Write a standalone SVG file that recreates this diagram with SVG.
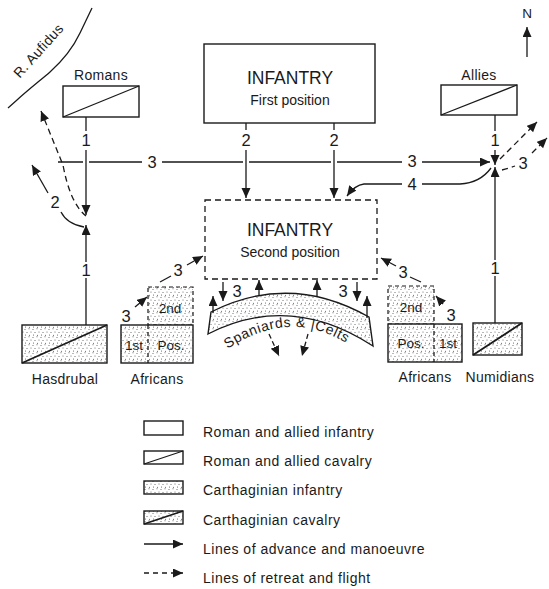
<svg xmlns="http://www.w3.org/2000/svg" width="549" height="589" viewBox="0 0 549 589">
<style>
text{font-family:"Liberation Sans",Arial,sans-serif;fill:#1a1a1a}
.lbl{font-size:14px;text-anchor:middle;letter-spacing:0.3px}
.num{font-size:16.5px;text-anchor:middle}
.big{font-size:17.5px;text-anchor:middle}
.sub{font-size:14px;text-anchor:middle}
.sm{font-size:13.5px;text-anchor:middle}
.leg{font-size:14px;letter-spacing:0.5px}
.box{fill:#fff;stroke:#1a1a1a;stroke-width:1.4}
.dbox{fill:#fff;stroke:#1a1a1a;stroke-width:1.3;stroke-dasharray:6,4}
.dot{fill:url(#dots);stroke:#1a1a1a;stroke-width:1.4}
.ddot{fill:url(#dots);stroke:#1a1a1a;stroke-width:1.2;stroke-dasharray:4,3}
.ln{fill:none;stroke:#1a1a1a;stroke-width:1.3}
.dl{fill:none;stroke:#1a1a1a;stroke-width:1.3;stroke-dasharray:6,4}
.ar{marker-end:url(#ah)}
</style>
<defs>
<pattern id="dots" width="8" height="8" patternUnits="userSpaceOnUse">
<rect width="8" height="8" fill="#fff"/>
<circle cx="1" cy="1.5" r="0.5" fill="#444"/>
<circle cx="5" cy="0.8" r="0.5" fill="#444"/>
<circle cx="3" cy="4.5" r="0.5" fill="#444"/>
<circle cx="7" cy="4" r="0.5" fill="#444"/>
<circle cx="1.5" cy="7" r="0.5" fill="#444"/>
<circle cx="5.5" cy="7.2" r="0.5" fill="#444"/>
</pattern>
<marker id="ah" markerUnits="userSpaceOnUse" markerWidth="12" markerHeight="10" refX="10" refY="4.5" orient="auto">
<path d="M0,0 L10,4.5 L0,9 z" fill="#1a1a1a"/>
</marker>
</defs>

<!-- river -->
<g id="river">
<path class="ln" d="M8,108 L17,100 C28,90 42,79 50,72 C60,63 72,50 80,33 L92,8"/>
<text class="lbl" transform="translate(42,54) rotate(-48)" x="0" y="0">R. Aufidus</text>
</g>

<!-- north -->
<g id="north">
<text class="sm" x="527" y="18">N</text>
<line class="ln ar" x1="527" y1="57" x2="527" y2="27"/>
</g>

<g id="romans">
<text class="lbl" x="101" y="80">Romans</text>
<rect class="box" x="63" y="86" width="76" height="31"/>
<line class="ln" x1="63" y1="117" x2="139" y2="86"/>
</g>

<g id="allies">
<text class="lbl" x="479" y="80">Allies</text>
<rect class="box" x="441" y="85" width="76" height="30"/>
<line class="ln" x1="441" y1="115" x2="517" y2="85"/>
</g>

<g id="infantry1">
<rect class="box" x="204" y="44" width="171" height="79"/>
<text class="big" x="290" y="84">INFANTRY</text>
<text class="sub" x="290" y="105">First position</text>
</g>

<g id="infantry2">
<rect class="dbox" x="205" y="200" width="172" height="79"/>
<text class="big" x="290" y="236">INFANTRY</text>
<text class="sub" x="290" y="257">Second position</text>
</g>

<g id="hasdrubal">
<rect class="dot" x="22" y="325" width="85" height="38"/>
<line class="ln" x1="22" y1="363" x2="107" y2="325" style="stroke-width:1.8"/>
<text class="lbl" x="65" y="384">Hasdrubal</text>
</g>

<g id="africans-left">
<rect class="ddot" x="148" y="287" width="45" height="38"/>
<rect class="dot" x="121" y="325" width="72" height="38"/>
<line class="dl" x1="148" y1="325" x2="148" y2="363" style="stroke-dasharray:4,3"/>
<text class="sm" x="170" y="313">2nd</text>
<text class="sm" x="134" y="350">1st</text>
<text class="sm" x="171" y="350">Pos.</text>
<text class="lbl" x="157" y="384">Africans</text>
</g>

<g id="africans-right">
<rect class="ddot" x="388" y="286" width="46" height="38"/>
<rect class="dot" x="388" y="324" width="74" height="38"/>
<line class="dl" x1="434" y1="324" x2="434" y2="362" style="stroke-dasharray:4,3"/>
<text class="sm" x="411" y="312">2nd</text>
<text class="sm" x="411" y="348">Pos.</text>
<text class="sm" x="448" y="348">1st</text>
<text class="lbl" x="425" y="382">Africans</text>
</g>

<g id="numidians">
<rect class="dot" x="473" y="323" width="49" height="32"/>
<line class="ln" x1="473" y1="355" x2="522" y2="323" style="stroke-width:1.8"/>
<text class="lbl" x="500" y="382">Numidians</text>
</g>

<g id="spaniards-celts">
<path class="dot" d="M211,312 Q290,272 369,317 L373,346 Q290,292 208,334 Z"/>
<path id="tp" d="M216,357 Q290,300 358,351" fill="none"/>
<text style="font-size:14px;letter-spacing:0.6px"><textPath href="#tp" startOffset="50%" text-anchor="middle">Spaniards &amp; |Celts</textPath></text>
</g>

<g id="connectors">
<!-- Romans line -->
<line class="ln" x1="86" y1="117" x2="86" y2="131"/>
<text class="num" x="86" y="146">1</text>
<line class="ln" x1="86" y1="150" x2="86" y2="215" marker-end="url(#ah)"/>
<line class="ln" x1="86" y1="325" x2="86" y2="278"/>
<text class="num" x="86" y="276">1</text>
<line class="ln ar" x1="86" y1="262" x2="86" y2="225"/>
<!-- left retreat dashed -->
<path class="dl ar" d="M86,216 Q70,203 63,165 L41,111"/>
<!-- left curve 2 -->
<path class="ln" d="M84,227 Q67,224 61,212"/>
<text class="num" x="55" y="208">2</text>
<path class="ln ar" d="M48,193 L32,165"/>

<!-- horizontal 3 -->
<path class="ln" d="M58,162 H83 M89,162 H142 M162,162 H243 M249,162 H331 M337,162 H402"/>
<text class="num" x="152" y="168">3</text>
<text class="num" x="412" y="167">3</text>
<line class="ln ar" x1="422" y1="162" x2="490" y2="162"/>

<!-- first position to second -->
<line class="ln" x1="246" y1="123" x2="246" y2="130"/>
<text class="num" x="246" y="146">2</text>
<line class="ln ar" x1="246" y1="150" x2="246" y2="198"/>
<line class="ln" x1="334" y1="123" x2="334" y2="130"/>
<text class="num" x="334" y="146">2</text>
<line class="ln ar" x1="334" y1="150" x2="334" y2="198"/>

<!-- allies line -->
<line class="ln" x1="495" y1="115" x2="495" y2="131"/>
<text class="num" x="495" y="146">1</text>
<line class="ln ar" x1="495" y1="150" x2="495" y2="165"/>
<line class="ln" x1="495" y1="323" x2="495" y2="276"/>
<text class="num" x="495" y="274">1</text>
<line class="ln ar" x1="495" y1="260" x2="495" y2="167"/>

<!-- 4 -->
<path class="ln" d="M491,168 Q480,183 460,184 H422"/>
<text class="num" x="412" y="190">4</text>
<path class="ln ar" d="M402,184 H364 Q355,185 347,196"/>

<!-- right retreat -->
<path class="dl ar" d="M500,159 L537,122"/>
<path class="dl" d="M502,170 Q510,168 515,166"/>
<text class="num" x="523" y="169">3</text>
<path class="dl ar" d="M532,153 L547,138"/>

<!-- left Africans arrows -->
<line class="ln ar" x1="135" y1="307" x2="147" y2="297"/>
<text class="num" x="126" y="322">3</text>
<line class="ln" x1="160" y1="282" x2="171" y2="276"/>
<text class="num" x="178" y="276">3</text>
<line class="ln ar" x1="187" y1="265" x2="203" y2="256"/>

<!-- right Africans arrows -->
<line class="ln ar" x1="443" y1="304" x2="436" y2="296"/>
<text class="num" x="451" y="321">3</text>
<line class="ln" x1="421" y1="282" x2="410" y2="277"/>
<text class="num" x="403" y="278">3</text>
<line class="ln ar" x1="396" y1="266" x2="381" y2="258"/>

<!-- band arrows -->
<line class="ln ar" x1="223" y1="282" x2="223" y2="301"/>
<text class="num" x="237" y="297">3</text>
<line class="ln ar" x1="213" y1="313" x2="213" y2="296"/>
<line class="ln ar" x1="259" y1="296" x2="259" y2="280"/>
<line class="ln ar" x1="317" y1="296" x2="317" y2="280"/>
<text class="num" x="343" y="297">3</text>
<line class="ln ar" x1="357" y1="282" x2="357" y2="301"/>
<line class="ln ar" x1="367" y1="318" x2="367" y2="296"/>
<line class="dl ar" x1="269" y1="334" x2="279" y2="356" style="stroke-dasharray:5,3"/>
<line class="dl ar" x1="308" y1="334" x2="302" y2="356" style="stroke-dasharray:5,3"/>
</g>

<g id="legend">
<rect class="box" x="144" y="421" width="39" height="14"/>
<rect class="box" x="144" y="451" width="39" height="13"/>
<line class="ln" x1="144" y1="464" x2="183" y2="451"/>
<rect class="dot" x="144" y="481" width="39" height="13"/>
<rect class="dot" x="144" y="511" width="39" height="13"/>
<line class="ln" x1="144" y1="524" x2="183" y2="511" style="stroke-width:1.6"/>
<line class="ln ar" x1="144" y1="544" x2="183" y2="544"/>
<line class="dl ar" x1="144" y1="573" x2="183" y2="573" style="stroke-dasharray:5,4"/>
<text class="leg" x="203" y="437">Roman and allied infantry</text>
<text class="leg" x="203" y="466">Roman and allied cavalry</text>
<text class="leg" x="203" y="495">Carthaginian infantry</text>
<text class="leg" x="203" y="525">Carthaginian cavalry</text>
<text class="leg" x="203" y="554">Lines of advance and manoeuvre</text>
<text class="leg" x="203" y="583">Lines of retreat and flight</text>
</g>
</svg>
